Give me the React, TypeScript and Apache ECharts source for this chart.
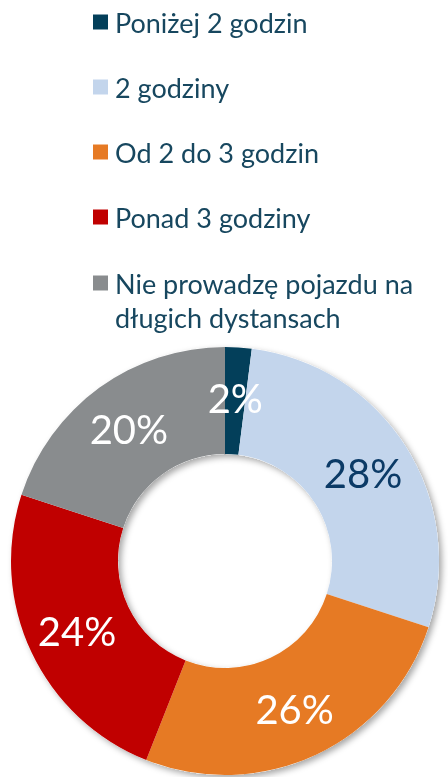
import React, { useEffect, useRef } from "react";
import * as echarts from "echarts";

const categories = [
  "Poniżej 2 godzin",
  "2 godziny",
  "Od 2 do 3 godzin",
  "Ponad 3 godziny",
  "Nie prowadzę pojazdu na długich dystansach",
];
const values = [2, 28, 26, 24, 20];
const colors = ["#033F5A", "#C3D5EC", "#E67A24", "#C00000", "#898C8E"];
const labelColors = ["#FFFFFF", "#0B3A66", "#FFFFFF", "#FFFFFF", "#FFFFFF"];

const FONT = "Lato, 'Noto Sans', sans-serif";
const TEXT = "#17475F";

export default function App() {
  const ref = useRef<HTMLDivElement>(null);
  useEffect(() => {
    if (!ref.current) return;
    const chart = echarts.init(ref.current, undefined, { renderer: "svg" });
    const legendText = {
      color: TEXT,
      fontFamily: FONT,
      fontSize: 27,
      lineHeight: 30,
      padding: [0, 0, 0, 2],
    };
    chart.setOption({
      animation: false,
      legend: [
        {
          orient: "vertical",
          left: 93,
          top: 7,
          padding: 0,
          itemWidth: 15,
          itemHeight: 15,
          itemGap: 35,
          icon: "rect",
          selectedMode: false,
          data: categories.slice(0, 4),
          textStyle: legendText,
        },
        {
          orient: "vertical",
          left: 93,
          top: 232,
          padding: 0,
          itemWidth: 15,
          itemHeight: 15,
          icon: "rect",
          selectedMode: false,
          data: categories.slice(4),
          formatter: () => "\nNie prowadzę pojazdu na\ndługich dystansach",
          textStyle: { ...legendText, lineHeight: 34 },
        },
      ],
      series: [
        {
          type: "pie",
          silent: true,
          center: [225, 561],
          radius: [107, 214],
          z: 1,
          label: { show: false },
          itemStyle: {
            color: "#ffffff",
            shadowBlur: 6,
            shadowOffsetX: 3,
            shadowOffsetY: 3,
            shadowColor: "rgba(0,0,0,0.35)",
          },
          data: [{ value: 1, name: "__bg" }],
          legendHoverLink: false,
        },
        {
          type: "pie",
          center: [225, 561],
          radius: [107, 214],
          startAngle: 90,
          clockwise: true,
          z: 2,
          label: {
            show: true,
            position: "inside",
            formatter: "{c}%",
            fontFamily: FONT,
            fontSize: 40,
          },
          labelLine: { show: false },
          data: categories.map((name, i) => ({
            name,
            value: values[i],
            itemStyle: { color: colors[i] },
            label: { color: labelColors[i] },
          })),
        },
      ],
    });
    return () => chart.dispose();
  }, []);
  return (
    <div
      ref={ref}
      style={{ position: "fixed", left: 0, top: 0, width: 448, height: 777 }}
    />
  );
}
